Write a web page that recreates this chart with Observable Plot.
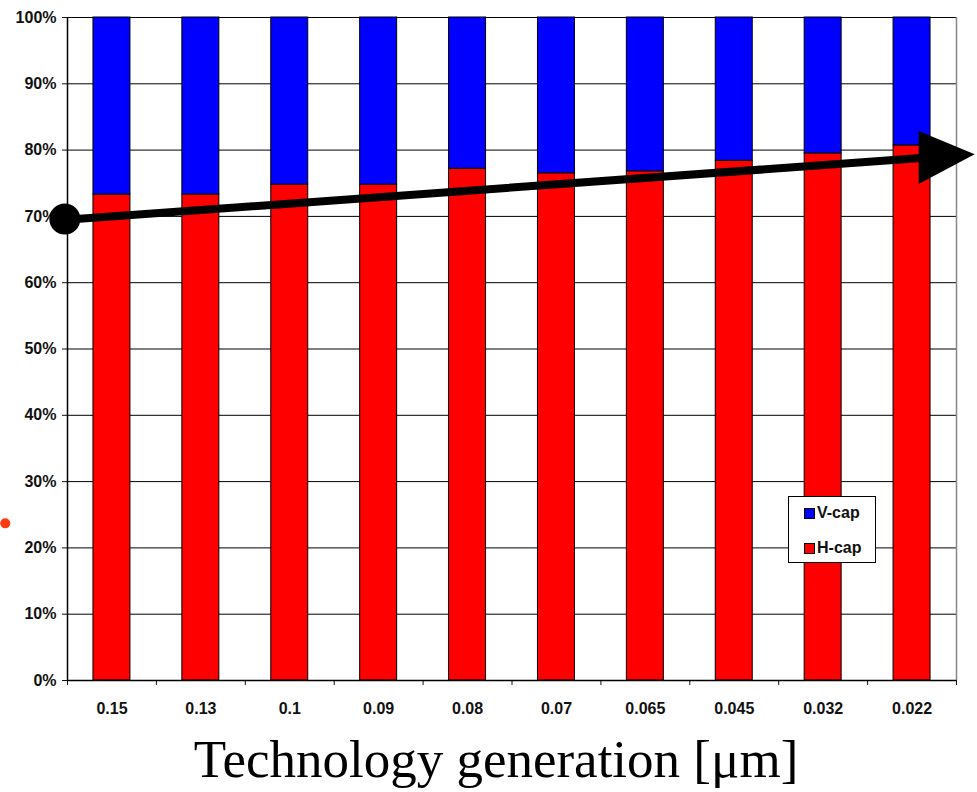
<!DOCTYPE html>
<html>
<head>
<meta charset="utf-8">
<script src="https://cdn.jsdelivr.net/npm/d3@7"></script>
<script src="https://cdn.jsdelivr.net/npm/@observablehq/plot@0.6"></script>
<style>
  html, body { margin: 0; padding: 0; background: #fff; }
  #wrap { position: relative; width: 977px; height: 792px; }
  #legend {
    position: absolute; left: 788px; top: 496px; width: 86px; height: 65px;
    border: 1.5px solid #000; background: #fff;
    font: bold 16px "Liberation Sans", Arial, sans-serif; color: #111;
  }
  #legend .item { position: absolute; left: 15px; display: flex; align-items: center; line-height: 18px; }
  #legend .sw { width: 9px; height: 9px; border: 1px solid #000; margin-right: 2px; }
</style>
</head>
<body>
<div id="wrap"></div>
<script>
// ---- data ----
const categories = ["0.15", "0.13", "0.1", "0.09", "0.08", "0.07", "0.065", "0.045", "0.032", "0.022"];
const hCap = [73.3, 73.3, 74.8, 74.8, 77.2, 76.5, 76.8, 78.4, 79.5, 80.7];
const vCap = [26.7, 26.7, 25.2, 25.2, 22.8, 23.5, 23.2, 21.6, 20.5, 19.3];
const seriesNames = ["H-cap", "V-cap"];
const seriesColors = ["#ff0000", "#0000ff"];
const yTicks = [0, 10, 20, 30, 40, 50, 60, 70, 80, 90, 100];
const xTitle = "Technology generation [\u03bcm]";
// trend arrow annotation (x in category-slot units, y in %)
const trendLine = [{x: -0.02, y: 69.5}, {x: 9.6, y: 78.8}];
const trendStart = [{x: -0.03, y: 69.6}];
const arrowHead = [{x: 9.58, y1: 74.8, y2: 82.8}, {x: 10.21, y1: 79.3, y2: 79.3}];
const strayDot = [{x: -0.70, y: 23.7}];

// ---- build table ----
const rows = [];
categories.forEach((c, i) => {
  rows.push({i, cat: c, series: "H-cap", value: hCap[i]});
  rows.push({i, cat: c, series: "V-cap", value: vCap[i]});
});
const hw = 0.208; // half bar width in slot units

const plot = Plot.plot({
  width: 977,
  height: 792,
  marginTop: 17,
  marginLeft: 67,
  marginRight: 21,
  marginBottom: 112,
  style: {fontFamily: "'Liberation Sans', Arial, sans-serif", fontSize: "16px", fontWeight: "bold", color: "#111", background: "#fff"},
  x: {domain: [0, categories.length], ticks: categories.length, tickFormat: () => "", tickSize: 5, label: null},
  y: {domain: [0, 100], ticks: yTicks, tickFormat: d => d + "%", tickSize: 5, tickPadding: 6, label: null},
  color: {domain: seriesNames, range: seriesColors},
  marks: [
    Plot.ruleY(yTicks.filter(d => d > 0), {stroke: "#000", strokeWidth: 1}),
    Plot.ruleX([categories.length], {stroke: "#888", strokeWidth: 1.5}),
    Plot.rectY(rows, {
      x1: d => d.i + 0.5 - hw, x2: d => d.i + 0.5 + hw, y: "value",
      fill: "series", order: seriesNames, stroke: "#000", strokeWidth: 1
    }),
    Plot.ruleY([0], {stroke: "#000", strokeWidth: 1.5}),
    Plot.ruleX([0], {stroke: "#000", strokeWidth: 1.5}),
    Plot.text(categories, {x: (d, i) => i + 0.5, frameAnchor: "bottom", dy: 33, text: d => d, fontSize: 16, fontWeight: "bold"}),
    Plot.text([xTitle], {frameAnchor: "bottom", dx: -16, dy: 96, text: d => d, fontSize: 53, fontWeight: "normal", fontFamily: "'Liberation Serif', 'Times New Roman', serif", fill: "#000"}),
    Plot.line(trendLine, {x: "x", y: "y", stroke: "#000", strokeWidth: 8}),
    Plot.areaY(arrowHead, {x: "x", y1: "y1", y2: "y2", fill: "#000"}),
    Plot.dot(trendStart, {x: "x", y: "y", r: 15.5, fill: "#000"}),
    Plot.dot(strayDot, {x: "x", y: "y", r: 5, fill: "#ff3a10"})
  ]
});
const wrap = document.getElementById("wrap");
wrap.appendChild(plot);
const legend = document.createElement("div");
legend.id = "legend";
legend.innerHTML = `
  <div class="item" style="top:7px"><span class="sw" style="background:${seriesColors[1]}"></span>${seriesNames[1]}</div>
  <div class="item" style="top:42px"><span class="sw" style="background:${seriesColors[0]}"></span>${seriesNames[0]}</div>`;
wrap.appendChild(legend);
</script>
</body>
</html>
